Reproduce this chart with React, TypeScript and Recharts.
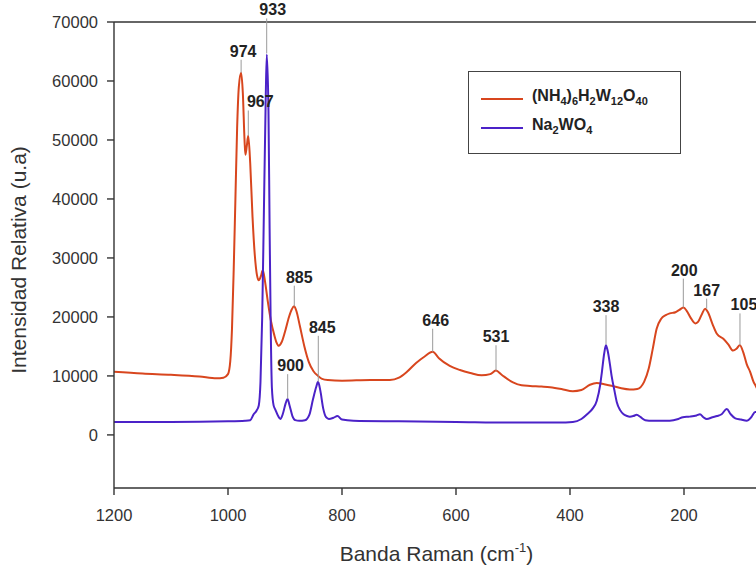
import React from 'react';
import { LineChart, Line, XAxis, YAxis, ReferenceLine, ReferenceDot } from 'recharts';

const FONT = '"Liberation Sans", Arial, Helvetica, sans-serif';
const RED = '#d8461e';
const PURPLE = '#4b22c8';

// (NH4)6H2W12O40 spectrum: [wavenumber, intensity]
const redX = [1200, 1150, 1100, 1050, 1020, 1008, 1000, 996, 993, 990, 987, 984, 981, 977, 974, 971, 969.5, 967, 964.5, 961, 957, 953, 949, 946, 942, 939, 935, 930, 925, 919, 915, 911, 906, 900, 893, 888, 884, 880, 874, 866, 858, 850, 842, 835, 825, 800, 750, 716, 700, 686, 670, 655, 641, 630, 611, 593, 575, 555, 540, 530, 520, 500, 485, 470, 450, 435, 415, 395, 380, 365, 353, 340, 325, 310, 295, 282, 270, 262, 255, 248, 240, 232, 225, 215, 208, 201, 195, 188, 180, 175, 168, 163, 158, 150, 142, 131, 122, 114, 108, 102, 96, 90, 84, 78, 74, 68, 60];
const redY = [10700, 10400, 10200, 9900, 9600, 9700, 10300, 12500, 18000, 28000, 40000, 52000, 59000, 61400, 58000, 50000, 47500, 49000, 50700, 46000, 37000, 30500, 27000, 26200, 27000, 27900, 26000, 22500, 19500, 17000, 15700, 15100, 15700, 17500, 20000, 21300, 21800, 21000, 18500, 15000, 12300, 10800, 10000, 9500, 9300, 9200, 9300, 9300, 9700, 10700, 12200, 13300, 14100, 13000, 11700, 11000, 10500, 10100, 10300, 10900, 10200, 8900, 8400, 8300, 8200, 8100, 7800, 7400, 7600, 8500, 8800, 8600, 8300, 7900, 7700, 7800, 9000, 11200, 14500, 18000, 19700, 20300, 20600, 20800, 21200, 21600, 21000, 19800, 18900, 19200, 20600, 21400, 20800, 18800, 17100, 16300, 15300, 14300, 14600, 15200, 14000, 12000, 10700, 9000, 8300, 7000, 6000];

// Na2WO4 spectrum
const purpleX = [1200, 1100, 1000, 970, 961, 955, 950, 946, 943, 940, 937, 934, 932, 929, 927, 925, 923, 920, 917, 912, 908, 904, 899, 895.5, 892, 887, 882, 875, 865, 857, 851, 845, 842, 838, 833, 828, 823, 815, 808, 800, 780, 700, 600, 500, 420, 395, 380, 370, 360, 353, 347, 344, 340, 337, 334, 330, 327, 322, 318, 312, 306, 300, 295, 289, 283, 276, 268, 255, 225, 210, 202, 190, 178, 172, 166, 160, 150, 142, 134, 125, 118, 110, 100, 90, 82, 75, 65];
const purpleY = [2200, 2200, 2300, 2400, 2500, 3500, 4100, 5000, 9000, 20000, 38000, 56000, 64500, 55000, 35000, 18000, 8000, 5000, 4300, 3200, 2700, 3500, 5300, 6100, 5000, 3200, 2500, 2400, 2500, 3500, 6000, 8200, 9000, 7500, 4500, 3000, 2700, 2900, 3200, 2600, 2400, 2300, 2200, 2100, 2100, 2200, 2700, 3500, 4500, 5800, 8500, 10700, 13800, 15200, 14300, 12000, 10000, 7500, 5600, 4200, 3500, 3200, 3100, 3200, 3400, 3000, 2500, 2400, 2400, 2700, 3000, 3100, 3300, 3500, 3000, 2700, 3000, 3200, 3500, 4400, 3500, 2800, 2600, 2400, 3000, 3900, 3500];

const xTicks = [200, 400, 600, 800, 1000, 1200];
const yTicks = [0, 10000, 20000, 30000, 40000, 50000, 60000, 70000];

// peak annotations
const peakLabels = ['974', '967', '933', '885', '845', '900', '646', '531', '338', '200', '167', '105'];
const peakX = [977, 964.4, 932.1, 883.7, 841.6, 895.3, 640.9, 529.8, 336.8, 201.2, 160.2, 101.8];
const peakLow = [61400, 50700, 64700, 21800, 9000, 6100, 14100, 10900, 15300, 21600, 21400, 15200];
const peakHigh = [63600, 55000, 70600, 25300, 16800, 10300, 18000, 15200, 20300, 26500, 23100, 20600];
const peakDx = [2, 12, 6, 5, 4, 3, 3, 0, 0, 1, 0, 4];

const redData = redX.map((x, i) => ({ x, y: redY[i] }));
const purpleData = purpleX.map((x, i) => ({ x, y: purpleY[i] }));

const AXIS = '#333';
const subStyle: React.CSSProperties = { fontSize: 11, lineHeight: 0 };

export default function App() {
  return (
    <div style={{ position: 'fixed', left: 0, top: 0, width: 756, height: 567, overflow: 'hidden', background: '#fff' }}>
      <LineChart width={830} height={567} margin={{ top: 22, right: 32, bottom: 39, left: 34 }}>
        <XAxis
          type="number"
          dataKey="x"
          domain={[0, 1200]}
          reversed
          ticks={xTicks}
          allowDuplicatedCategory={false}
          height={40}
          tickSize={7}
          tickMargin={14}
          stroke={AXIS}
          strokeWidth={1.4}
          tick={{ fill: '#333', fontSize: 16.5, fontFamily: FONT }}
          tickLine={{ stroke: AXIS, strokeWidth: 1.4 }}
          label={(props: any) => (
            <text x={436.5} y={561} textAnchor="middle" fontFamily={FONT} fontSize={21} fill="#333">
              Banda Raman (cm
              <tspan fontSize={13} dy={-9}>-1</tspan>
              <tspan dy={9}>)</tspan>
            </text>
          )}
        />
        <YAxis
          type="number"
          domain={[-9000, 70000]}
          ticks={yTicks}
          width={80}
          tickSize={7}
          tickMargin={9}
          stroke={AXIS}
          strokeWidth={1.4}
          tick={{ fill: '#333', fontSize: 16.5, fontFamily: FONT }}
          tickLine={{ stroke: AXIS, strokeWidth: 1.4 }}
          label={(props: any) => (
            <text
              x={19}
              y={260}
              transform="rotate(-90, 19, 260)"
              textAnchor="middle"
              dy="0.35em"
              fontFamily={FONT}
              fontSize={21}
              fill="#333"
            >
              Intensidad Relativa (u.a)
            </text>
          )}
        />
        <ReferenceLine y={70000} stroke={AXIS} strokeWidth={1.4} ifOverflow="visible" />
        <Line
          data={redData}
          dataKey="y"
          type="monotone"
          stroke={RED}
          strokeWidth={2}
          dot={false}
          isAnimationActive={false}
        />
        <Line
          data={purpleData}
          dataKey="y"
          type="monotone"
          stroke={PURPLE}
          strokeWidth={2}
          dot={false}
          isAnimationActive={false}
        />
        {peakLabels.map((lab, i) => (
          <ReferenceLine
            key={'l' + lab}
            segment={[{ x: peakX[i], y: peakLow[i] }, { x: peakX[i], y: peakHigh[i] }]}
            stroke="#9a9a9a"
            strokeWidth={1}
            ifOverflow="visible"
          />
        ))}
        {peakLabels.map((lab, i) => (
          <ReferenceDot
            key={'d' + lab}
            x={peakX[i]}
            y={peakHigh[i]}
            r={0.01}
            fill="none"
            stroke="none"
            ifOverflow="visible"
            label={(props: any) => {
              const vb = props.viewBox || {};
              const cx = (vb.x ?? 0) + (vb.width ?? 0) / 2;
              const cy = (vb.y ?? 0) + (vb.height ?? 0) / 2;
              return (
                <text
                  x={cx + peakDx[i]}
                  y={cy - 3}
                  textAnchor="middle"
                  fontFamily={FONT}
                  fontWeight="bold"
                  fontSize={16}
                  fill="#222"
                >
                  {lab}
                </text>
              );
            }}
          />
        ))}
      </LineChart>
      <div
        style={{
          position: 'absolute',
          left: 468,
          top: 71,
          width: 211,
          height: 81,
          border: '1.5px solid #444',
          background: '#fff',
          fontFamily: FONT,
          fontWeight: 'bold',
          fontSize: 16,
          color: '#222',
        }}
      >
        <div style={{ position: 'absolute', left: 12, top: 26, width: 42, height: 2, background: RED }} />
        <div style={{ position: 'absolute', left: 63, top: 15, whiteSpace: 'nowrap', lineHeight: '18px' }}>
          (NH<sub style={subStyle}>4</sub>)<sub style={subStyle}>6</sub>H<sub style={subStyle}>2</sub>W
          <sub style={subStyle}>12</sub>O<sub style={subStyle}>40</sub>
        </div>
        <div style={{ position: 'absolute', left: 12, top: 55, width: 42, height: 2, background: PURPLE }} />
        <div style={{ position: 'absolute', left: 63, top: 44, whiteSpace: 'nowrap', lineHeight: '18px' }}>
          Na<sub style={subStyle}>2</sub>WO<sub style={subStyle}>4</sub>
        </div>
      </div>
    </div>
  );
}
